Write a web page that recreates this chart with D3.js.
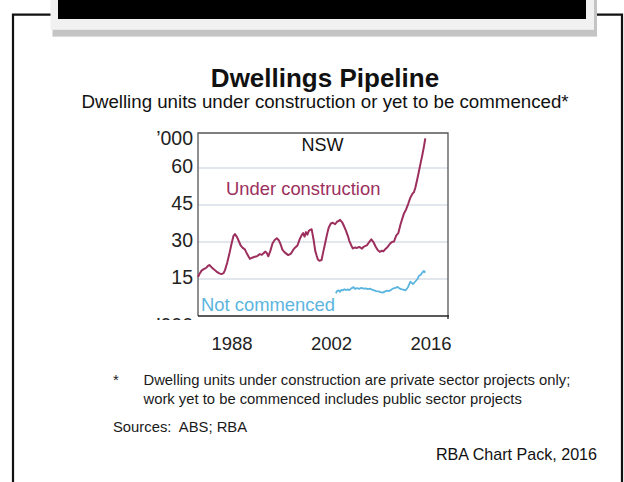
<!DOCTYPE html>
<html>
<head>
<meta charset="utf-8">
<script src="https://cdn.jsdelivr.net/npm/d3@7"></script>
<style>
  html, body { margin: 0; padding: 0; background: #fff; }
  svg { display: block; }
  text { font-family: "Liberation Sans", Arial, sans-serif; }
</style>
</head>
<body>
<svg id="chart" width="624" height="482"></svg>
<script>
// Dwelling units under construction (private sector), NSW, '000
const ucYears = [1983.70,1983.9,1984.2,1984.5,1984.8,1985.1,1985.3,1985.6,1986.0,1986.3,1986.7,1987.0,1987.3,1987.5,1987.8,
  1988.1,1988.4,1988.7,1988.9,1989.2,1989.5,1989.7,1990.0,1990.3,1990.6,1991.0,1991.3,1991.7,1992.0,1992.4,1992.7,1992.9,
  1993.2,1993.4,1993.6,1993.9,1994.2,1994.5,1994.8,1995.1,1995.3,1995.6,1995.9,1996.4,1996.8,1997.1,1997.4,1997.7,1998.0,
  1998.3,1998.5,1998.7,1998.9,1999.1,1999.3,1999.5,1999.7,2000.0,2000.2,2000.4,2000.6,2000.8,2001.1,2001.3,2001.6,2001.9,
  2002.1,2002.4,2002.7,2003.0,2003.3,2003.5,2003.7,2004.0,2004.2,2004.5,2004.8,2005.0,2005.3,2005.5,2005.8,2006.1,2006.4,
  2006.8,2007.0,2007.3,2007.5,2007.8,2008.1,2008.4,2008.7,2009.0,2009.3,2009.6,2009.8,2010.1,2010.4,2010.7,2011.0,2011.3,
  2011.6,2011.9,2012.2,2012.5,2012.7,2013.0,2013.3,2013.6,2013.9,2014.1,2014.3,2014.5,2014.7,2014.9,2015.1,2015.3,2015.5,2015.7];
const ucValues = [15.8,17.0,18.4,19.0,19.4,20.3,20.7,19.8,18.8,18.0,17.3,17.0,17.4,18.6,21.5,
  25.0,29.0,32.5,33.2,32.0,30.0,28.6,27.6,27.0,25.2,23.2,23.6,24.0,24.2,25.1,24.8,25.4,
  26.1,25.5,24.2,26.5,29.5,30.8,31.5,30.6,29.3,26.8,25.8,24.7,25.3,26.8,27.8,28.6,31.0,
  32.8,33.6,32.2,34.0,33.0,34.5,34.9,35.2,30.5,26.5,24.5,22.8,22.4,22.7,25.5,29.5,33.5,
  35.8,37.5,37.8,37.2,38.3,38.5,39.0,38.0,36.8,34.8,32.5,30.5,28.5,27.4,27.8,27.6,28.0,
  27.3,28.0,28.4,28.7,30.0,31.1,30.0,28.2,26.8,26.0,26.5,26.2,27.2,28.0,29.2,30.0,30.2,
  32.6,33.6,37.0,39.8,41.6,43.2,45.5,48.0,49.6,50.2,52.0,54.5,57.2,60.0,62.8,65.5,68.5,72.0];

// Dwelling units yet to be commenced (incl. public sector), NSW, '000
const ncYears = [2003.1,2003.3,2003.5,2003.7,2003.9,2004.1,2004.3,2004.5,2004.8,2005.0,2005.3,2005.6,2005.8,2006.1,2006.4,
  2006.7,2007.0,2007.3,2007.6,2007.9,2008.2,2008.5,2008.8,2009.1,2009.4,2009.7,2010.0,2010.3,2010.6,2010.9,2011.2,2011.5,
  2011.8,2012.0,2012.3,2012.6,2012.9,2013.1,2013.3,2013.6,2013.8,2014.0,2014.3,2014.6,2014.8,2015.1,2015.3,2015.5,2015.7];
const ncValues = [9.2,10.2,10.4,9.8,10.6,10.4,10.9,10.5,10.8,10.5,11.2,11.7,11.0,11.3,11.0,
  11.4,11.1,11.2,10.9,11.1,10.7,10.4,10.1,10.0,9.7,9.5,9.9,10.3,10.1,10.6,11.2,11.4,
  11.8,11.3,10.9,10.7,10.4,11.0,11.9,13.9,13.4,13.0,14.0,15.0,16.2,16.8,17.7,18.3,17.6];

const yTicks = [15, 30, 45, 60];
const xTickYears = [1988, 2002, 2016];

const svg = d3.select("#chart");
svg.append("rect").attr("width", 624).attr("height", 482).attr("fill", "#fff");

// Slide header bar with shadow
svg.append("rect").attr("x", 52.5).attr("y", -2).attr("width", 544.5).attr("height", 38.6).attr("fill", "#c4c4c4");
svg.append("rect").attr("x", 50.5).attr("y", -2).attr("width", 543.5).attr("height", 31.8).attr("fill", "#f1f1f1");
svg.append("rect").attr("x", 58).attr("y", -2).attr("width", 528).attr("height", 21).attr("fill", "#000");

// Slide border
const border = svg.append("g").attr("stroke", "#111").attr("stroke-width", 2.2).attr("fill", "none");
border.append("path").attr("d", "M50.5,14.7 H13 V490");
border.append("path").attr("d", "M597,14.7 H622 V490");

// Titles
svg.append("text").attr("x", 325).attr("y", 87).attr("text-anchor", "middle")
  .attr("font-size", 26).attr("font-weight", "bold").attr("fill", "#111").text("Dwellings Pipeline");
svg.append("text").attr("x", 325).attr("y", 108).attr("text-anchor", "middle")
  .attr("font-size", 18.7).attr("fill", "#111").text("Dwelling units under construction or yet to be commenced*");

// Plot area
const plot = { left: 198, right: 448, top: 133, bottom: 316 };
const x = d3.scaleLinear().domain([1983.7, 2018.9]).range([plot.left, plot.right]);
const y = d3.scaleLinear().domain([0, 74.2]).range([plot.bottom, plot.top]);

// Gridlines
svg.append("g").selectAll("line").data(yTicks).join("line")
  .attr("x1", plot.left).attr("x2", plot.right)
  .attr("y1", d => y(d)).attr("y2", d => y(d))
  .attr("stroke", "#c3d0da").attr("stroke-width", 1.2);

// Frame
svg.append("path")
  .attr("d", `M${plot.left},${plot.bottom} V${plot.top} H${plot.right} V${plot.bottom}`)
  .attr("fill", "none").attr("stroke", "#555").attr("stroke-width", 1.3);
svg.append("line").attr("x1", plot.left).attr("x2", plot.right + 1)
  .attr("y1", plot.bottom).attr("y2", plot.bottom).attr("stroke", "#222").attr("stroke-width", 1.6);
svg.append("line").attr("x1", plot.right).attr("x2", plot.right)
  .attr("y1", plot.bottom).attr("y2", plot.bottom + 3).attr("stroke", "#222").attr("stroke-width", 1.3);

// Y axis labels
const axisColor = "#222";
svg.append("g").selectAll("text").data(yTicks).join("text")
  .attr("x", 193).attr("y", d => y(d) + 5).attr("text-anchor", "end")
  .attr("font-size", 19.5).attr("fill", axisColor).text(d => d);
svg.append("text").attr("x", 193).attr("y", 145).attr("text-anchor", "end")
  .attr("font-size", 19.5).attr("fill", axisColor).text("\u2019000");

// Units label repeated at the bottom, mostly hidden below the axis
const clip = svg.append("clipPath").attr("id", "unitClip");
clip.append("rect").attr("x", 150).attr("y", plot.bottom + 1.5).attr("width", 48).attr("height", 2.5);
svg.append("text").attr("x", 193).attr("y", plot.bottom + 16).attr("text-anchor", "end")
  .attr("font-size", 19.5).attr("fill", axisColor).attr("clip-path", "url(#unitClip)").text("\u2019000");

// X axis labels, centred on each year
svg.append("g").selectAll("text").data(xTickYears).join("text")
  .attr("x", d => x(d + 0.5)).attr("y", 350).attr("text-anchor", "middle")
  .attr("font-size", 18.5).attr("fill", axisColor).text(d => d);

// Series lines
const line = d3.line().x(d => x(d[0])).y(d => y(d[1]));
const ucData = ucYears.map((t, i) => [t, ucValues[i]]);
const ncData = ncYears.map((t, i) => [t, ncValues[i]]);
const ucColor = "#9c2f5d";
const ncColor = "#5bb5de";
svg.append("path").datum(ucData).attr("d", line).attr("fill", "none")
  .attr("stroke", ucColor).attr("stroke-width", 2).attr("stroke-linejoin", "round");
svg.append("path").datum(ncData).attr("d", line).attr("fill", "none")
  .attr("stroke", ncColor).attr("stroke-width", 1.8).attr("stroke-linejoin", "round");

// In-chart labels
svg.append("text").attr("x", 322.5).attr("y", 151).attr("text-anchor", "middle")
  .attr("font-size", 18).attr("fill", "#111").text("NSW");
svg.append("text").attr("x", 226).attr("y", 195)
  .attr("font-size", 18.4).attr("fill", ucColor).text("Under construction");
svg.append("text").attr("x", 201).attr("y", 311)
  .attr("font-size", 18.4).attr("fill", ncColor).text("Not commenced");

// Notes
const noteColor = "#1a1a1a";
svg.append("text").attr("x", 113).attr("y", 385).attr("font-size", 14.8).attr("fill", noteColor).text("*");
svg.append("text").attr("x", 143.5).attr("y", 385).attr("font-size", 14.8).attr("fill", noteColor)
  .text("Dwelling units under construction are private sector projects only;");
svg.append("text").attr("x", 143.5).attr("y", 403.5).attr("font-size", 14.8).attr("fill", noteColor)
  .text("work yet to be commenced includes public sector projects");
svg.append("text").attr("x", 113).attr("y", 431.5).attr("font-size", 14.8).attr("fill", noteColor)
  .attr("xml:space", "preserve").text("Sources:  ABS; RBA");
svg.append("text").attr("x", 597).attr("y", 459.5).attr("text-anchor", "end")
  .attr("font-size", 16.1).attr("fill", "#111").text("RBA Chart Pack, 2016");
</script>
</body>
</html>
